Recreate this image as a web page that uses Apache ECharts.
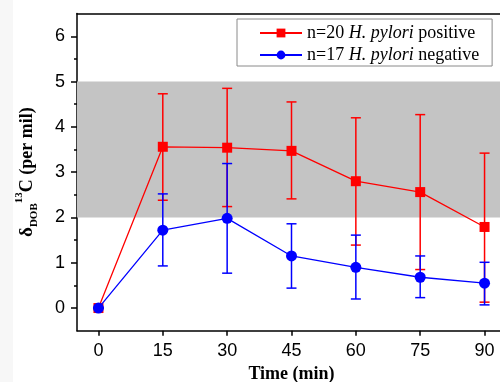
<!DOCTYPE html>
<html>
<head>
<meta charset="utf-8">
<script src="https://cdn.jsdelivr.net/npm/echarts@6/dist/echarts.min.js"></script>
<style>html,body{margin:0;padding:0;background:#fff;}#c{width:500px;height:382px;}</style>
</head>
<body>
<div id="c"></div>
<script>
const times = [0, 15, 30, 45, 60, 75, 90];
const posMean = [0, 3.56, 3.54, 3.47, 2.80, 2.56, 1.79];
const posUpper = [0, 4.73, 4.85, 4.55, 4.20, 4.27, 3.42];
const posLower = [0, 2.38, 2.24, 2.41, 1.39, 0.85, 0.13];
const negMean = [0, 1.72, 1.98, 1.15, 0.90, 0.68, 0.55];
const negUpper = [0, 2.52, 3.19, 1.86, 1.61, 1.15, 1.01];
const negLower = [0, 0.93, 0.77, 0.44, 0.20, 0.23, 0.07];
const xTickMin = 0, xTickMax = 90, xTickStep = 15;
const yTickMin = 0, yTickMax = 6, yTickStep = 1;
const xRange = [-5, 95];
const yRange = [-0.5, 6.5];
const band = [2, 5];
const posName = 'pos';
const negName = 'neg';

const SERIF = '"Liberation Serif","Times New Roman",serif';
const SANS = '"Liberation Sans",Arial,sans-serif';
const RED = '#ff0000';
const BLUE = '#0000ff';

// grid geometry (pixels)
const G = { left: 77, top: 13.6, width: 429, height: 317.1 };
const px = G.width / (xRange[1] - xRange[0]);
const py = G.height / (yRange[1] - yRange[0]);
const G2 = {
  left: G.left + (xTickMin - xRange[0]) * px,
  top: G.top + (yRange[1] - yTickMax) * py,
  width: (xTickMax - xTickMin) * px,
  height: (yTickMax - yTickMin) * py
};
const xOff = (yTickMin - yRange[0]) * py;
const yOff = (xTickMin - xRange[0]) * px;

function errData(lo, hi) { return times.map((t, i) => [t, lo[i], hi[i]]); }
function errSeries(lo, hi, color, z) {
  return {
    type: 'custom', z: z, silent: true, xAxisIndex: 0, yAxisIndex: 0,
    encode: { x: 0, y: [1, 2] },
    data: errData(lo, hi),
    renderItem: function (params, api) {
      const x = api.value(0), l = api.value(1), h = api.value(2);
      const top = api.coord([x, h]), bot = api.coord([x, l]);
      const w = 5;
      const st = { stroke: color, lineWidth: 1.5 };
      return { type: 'group', children: [
        { type: 'line', shape: { x1: top[0], y1: top[1], x2: bot[0], y2: bot[1] }, style: st },
        { type: 'line', shape: { x1: top[0] - w, y1: top[1], x2: top[0] + w, y2: top[1] }, style: st },
        { type: 'line', shape: { x1: bot[0] - w, y1: bot[1], x2: bot[0] + w, y2: bot[1] }, style: st }
      ]};
    }
  };
}

const axisLineStyle = { color: '#000', width: 1.5 };
const chart = echarts.init(document.getElementById('c'), null, { renderer: 'canvas' });
chart.setOption({
  backgroundColor: '#fff',
  animation: false,
  graphic: [{ type: 'rect', left: 0, top: 0, shape: { width: 13, height: 382 }, style: { fill: '#f7f7f7' }, z: -10 }],
  grid: [
    Object.assign({ containLabel: false, outerBoundsMode: 'none' }, G),
    Object.assign({ containLabel: false, outerBoundsMode: 'none' }, G2)
  ],
  legend: {
    data: [posName, negName],
    orient: 'vertical',
    left: 237, top: 19,
    padding: [4, 13, 1, 22],
    itemWidth: 42, itemHeight: 11, itemGap: 2,
    backgroundColor: '#fff', borderColor: '#8a8a8a', borderWidth: 1,
    formatter: function (n) {
      return n === posName ? '{r|n=20 }{i|H. pylori}{r| positive}' : '{r|n=17 }{i|H. pylori}{r| negative}';
    },
    textStyle: {
      color: '#000', fontFamily: SERIF, fontSize: 18, lineHeight: 20,
      rich: {
        r: { fontFamily: SERIF, fontSize: 18, color: '#000', lineHeight: 20 },
        i: { fontFamily: SERIF, fontSize: 18, fontStyle: 'italic', color: '#000', lineHeight: 20 }
      }
    }
  },
  xAxis: [{
    gridIndex: 0, type: 'value', min: xRange[0], max: xRange[1],
    name: 'Time (min)', nameLocation: 'middle', nameGap: 35,
    nameTextStyle: { fontFamily: SERIF, fontWeight: 'bold', fontSize: 18, color: '#000' },
    axisLine: { show: true, onZero: false, lineStyle: axisLineStyle },
    axisTick: { show: false }, axisLabel: { show: false }, splitLine: { show: false }
  }, {
    gridIndex: 0, type: 'value', min: xRange[0], max: xRange[1], position: 'top',
    axisLine: { show: true, onZero: false, lineStyle: axisLineStyle },
    axisTick: { show: false }, axisLabel: { show: false }, splitLine: { show: false }
  }, {
    gridIndex: 1, type: 'value', min: xTickMin, max: xTickMax, interval: xTickStep,
    position: 'bottom', offset: xOff,
    axisLine: { show: false, onZero: false },
    axisTick: { show: true, length: 5, lineStyle: axisLineStyle },
    axisLabel: { fontFamily: SANS, fontSize: 18, color: '#000', margin: 11 },
    splitLine: { show: false }
  }],
  yAxis: [{
    gridIndex: 0, type: 'value', min: yRange[0], max: yRange[1],
    name: '{d|δ}{s|DOB}{p|13}{c|C (per mil)}', nameLocation: 'middle', nameGap: 37,
    nameTextStyle: {
      fontFamily: SERIF, fontWeight: 'bold', fontSize: 18, color: '#000',
      rich: {
        d: { fontFamily: SERIF, fontWeight: 'bold', fontSize: 19, color: '#000', lineHeight: 26, verticalAlign: 'middle' },
        s: { fontFamily: SERIF, fontWeight: 'bold', fontSize: 11, color: '#000', lineHeight: 12, verticalAlign: 'bottom' },
        p: { fontFamily: SERIF, fontWeight: 'bold', fontSize: 11, color: '#000', lineHeight: 12, verticalAlign: 'top' },
        c: { fontFamily: SERIF, fontWeight: 'bold', fontSize: 18, color: '#000', lineHeight: 26, verticalAlign: 'middle' }
      }
    },
    axisLine: { show: true, onZero: false, lineStyle: axisLineStyle },
    axisTick: { show: false }, axisLabel: { show: false }, splitLine: { show: false }
  }, {
    gridIndex: 1, type: 'value', min: yTickMin, max: yTickMax, interval: yTickStep,
    position: 'left', offset: yOff,
    axisLine: { show: false, onZero: false },
    axisTick: { show: true, length: 6, lineStyle: axisLineStyle },
    minorTick: { show: true, splitNumber: 2, length: 3, lineStyle: axisLineStyle },
    axisLabel: { fontFamily: SANS, fontSize: 18, color: '#000', margin: 12 },
    splitLine: { show: false }, minorSplitLine: { show: false }
  }],
  series: [
    {
      type: 'line', name: 'band', data: [], z: 1, silent: true, xAxisIndex: 0, yAxisIndex: 0,
      markArea: { silent: true, itemStyle: { color: '#c4c4c4' }, data: [[{ yAxis: band[0] }, { yAxis: band[1] }]] }
    },
    errSeries(posLower, posUpper, RED, 2),
    {
      type: 'line', name: posName, z: 3, xAxisIndex: 0, yAxisIndex: 0,
      data: times.map((t, i) => [t, posMean[i]]),
      symbol: 'rect', symbolSize: 10,
      lineStyle: { color: RED, width: 1.3 }, itemStyle: { color: RED }
    },
    errSeries(negLower, negUpper, BLUE, 4),
    {
      type: 'line', name: negName, z: 5, xAxisIndex: 0, yAxisIndex: 0,
      data: times.map((t, i) => [t, negMean[i]]),
      symbol: 'circle', symbolSize: 11,
      lineStyle: { color: BLUE, width: 1.3 }, itemStyle: { color: BLUE }
    }
  ]
});
</script>
</body>
</html>
